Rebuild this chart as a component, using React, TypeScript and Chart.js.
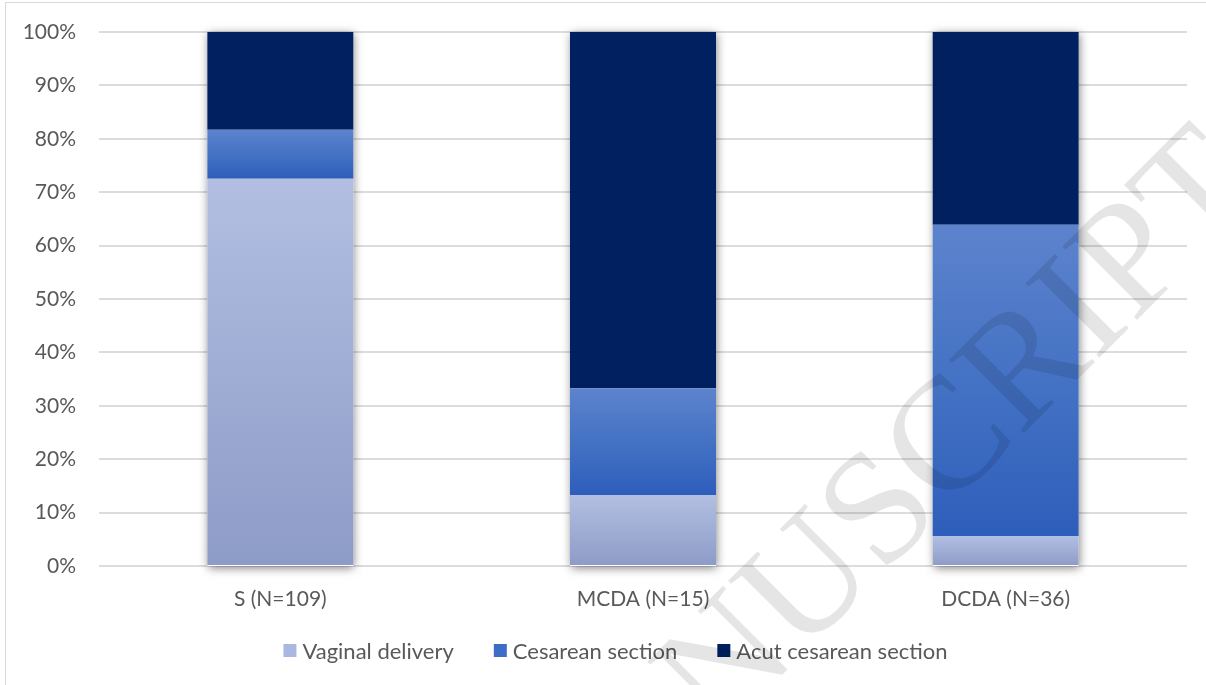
import React, { useEffect, useRef } from 'react';
import { Chart, registerables } from 'chart.js';

Chart.register(...registerables);

// ---- data (percent of each group) ----
const categories = ['S (N=109)', 'MCDA (N=15)', 'DCDA (N=36)'];
const vaginalDelivery = [72.5, 13.3, 5.6];
const cesareanSection = [9.2, 20.0, 58.3];
const acuteCesareanSection = [18.3, 66.7, 36.1];
const seriesNames = ['Vaginal delivery', 'Cesarean section', 'Acut cesarean section'];
const yTickStep = 10;
const yMax = 100;
const watermarkText = 'ACCEPTED MANUSCRIPT';

// ---- styles ----
const FONT = 'Lato, "Open Sans", sans-serif';
const TEXT_COLOR = '#595959';
const GRID_COLOR = '#dcdcdc';
const legendColors = ['#aab8df', '#3d6dc6', '#002060'];
const gradientStops: (Array<[number, string]> | null)[] = [
  [[0, '#b2bfe2'], [1, '#8d9bc7']],
  [[0, '#5d83cd'], [0.5, '#4472c4'], [1, '#2e5ebb']],
  null,
];

const seriesList = [vaginalDelivery, cesareanSection, acuteCesareanSection];

function barFill(ctx: any) {
  const ds = ctx.datasetIndex;
  const solid = legendColors[ds];
  const stops = gradientStops[ds];
  if (!stops || ctx.type !== 'data') return solid;
  const chart = ctx.chart;
  const y = chart.scales && chart.scales.y;
  if (!y || !chart.chartArea) return solid;
  const i = ctx.dataIndex;
  let base = 0;
  for (let k = 0; k < ds; k++) base += seriesList[k][i];
  const top = base + seriesList[ds][i];
  const g = chart.ctx.createLinearGradient(0, y.getPixelForValue(top), 0, y.getPixelForValue(base));
  stops.forEach(([o, c]) => g.addColorStop(o, c));
  return g;
}

const framePlugin = {
  id: 'frame',
  beforeDraw(chart: any) {
    const c = chart.ctx;
    c.save();
    c.strokeStyle = '#d9d9d9';
    c.lineWidth = 1;
    c.strokeRect(5.5, 2.5, chart.width + 10, chart.height + 10);
    c.restore();
  },
};

const shadowPlugin = {
  id: 'barShadow',
  beforeDatasetsDraw(chart: any) {
    const meta = chart.getDatasetMeta(0);
    const y = chart.scales.y;
    const c = chart.ctx;
    c.save();
    c.shadowColor = 'rgba(0,0,0,0.5)';
    c.shadowBlur = 9;
    c.shadowOffsetX = 1;
    c.shadowOffsetY = 2;
    c.fillStyle = '#ffffff';
    const top = y.getPixelForValue(yMax);
    const bottom = y.getPixelForValue(0);
    meta.data.forEach((bar: any) => {
      const { x, width } = bar.getProps(['x', 'width'], true);
      c.fillRect(x - width / 2, top, width, bottom - top);
    });
    c.restore();
  },
};

const legendPlugin = {
  id: 'customLegend',
  afterDraw(chart: any) {
    const c = chart.ctx;
    const box = 13;
    const gapText = 6;
    const gapItem = 40;
    const centerX = 615.5;
    const centerY = 650.5;
    c.save();
    c.font = `22px ${FONT}`;
    c.textBaseline = 'middle';
    c.textAlign = 'left';
    const items = chart.data.datasets.map((d: any, i: number) => ({
      text: d.label,
      color: legendColors[i],
      w: c.measureText(d.label).width,
    }));
    const total = items.reduce((s: number, it: any) => s + box + gapText + it.w, 0) + gapItem * (items.length - 1);
    let x = centerX - total / 2;
    items.forEach((it: any) => {
      c.fillStyle = it.color;
      c.fillRect(x, centerY - box / 2, box, box);
      c.fillStyle = TEXT_COLOR;
      c.fillText(it.text, x + box + gapText, centerY + 1);
      x += box + gapText + it.w + gapItem;
    });
    c.restore();
  },
};

const watermarkPlugin = {
  id: 'watermark',
  afterDraw(chart: any) {
    const c = chart.ctx;
    c.save();
    c.translate(1265, 192);
    c.rotate((-45 * Math.PI) / 180);
    c.font = '160px "Liberation Serif", "DejaVu Serif", serif';
    c.fillStyle = 'rgba(0,0,0,0.1)';
    c.textAlign = 'right';
    c.textBaseline = 'alphabetic';
    c.fillText(watermarkText, 0, 0);
    c.restore();
  },
};

export default function App() {
  const canvasRef = useRef<HTMLCanvasElement | null>(null);

  useEffect(() => {
    document.body.style.margin = '0';
    const canvas = canvasRef.current;
    if (!canvas) return;
    const chart = new Chart(canvas, {
      type: 'bar',
      data: {
        labels: categories,
        datasets: seriesList.map((values, i) => ({
          label: seriesNames[i],
          data: values,
          backgroundColor: barFill,
          borderWidth: 0,
          categoryPercentage: 1,
          barPercentage: 0.4026,
        })),
      },
      options: {
        responsive: false,
        animation: false,
        devicePixelRatio: 1,
        layout: { padding: { left: 20, right: 19, top: 32, bottom: 0 } },
        plugins: {
          legend: { display: false },
          tooltip: { enabled: false },
        },
        scales: {
          x: {
            stacked: true,
            grid: { display: false },
            border: { display: false },
            ticks: {
              color: TEXT_COLOR,
              font: { family: FONT, size: 21 },
              padding: 13,
              maxRotation: 0,
            },
            afterFit: (s: any) => {
              s.height = 119;
            },
          },
          y: {
            stacked: true,
            min: 0,
            max: yMax,
            grid: { color: GRID_COLOR, lineWidth: 2, drawTicks: false },
            border: { display: false },
            ticks: {
              stepSize: yTickStep,
              color: TEXT_COLOR,
              font: { family: FONT, size: 21 },
              padding: 23,
              callback: (v: any) => `${v}%`,
            },
            afterFit: (s: any) => {
              s.width = 79;
              s.paddingTop = 0;
              s.paddingBottom = 0;
            },
          },
        },
      },
      plugins: [framePlugin, shadowPlugin, legendPlugin, watermarkPlugin],
    });
    return () => chart.destroy();
  }, []);

  return (
    <div style={{ position: 'absolute', left: 0, top: 0, width: 1206, height: 685 }}>
      <canvas ref={canvasRef} width={1206} height={685} style={{ display: 'block' }} />
    </div>
  );
}
